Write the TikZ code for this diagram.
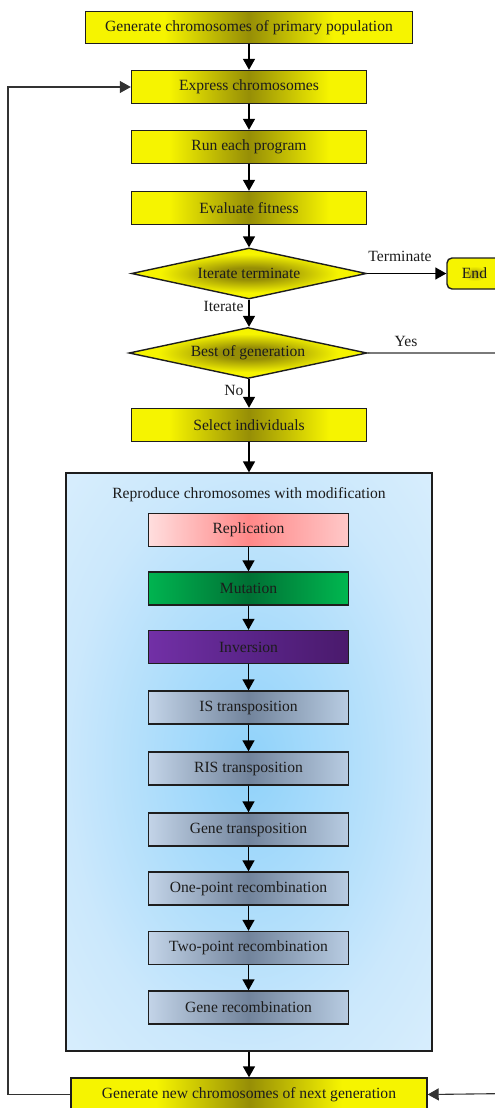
\documentclass[tikz,border=0pt]{standalone}
\usepackage{fontspec}
\setmainfont{Liberation Serif}
\usetikzlibrary{shapes.geometric,arrows.meta}

\definecolor{yelE}{RGB}{246,244,0}
\definecolor{yelD}{RGB}{150,142,6}
\definecolor{boxline}{RGB}{30,30,30}
\definecolor{txt}{RGB}{28,28,28}
\definecolor{loopgray}{RGB}{50,50,50}

% yellow bar: bright ends, olive middle
\pgfdeclarehorizontalshading{yelbar}{100bp}{color(0bp)=(yelE); color(33bp)=(yelE); color(50bp)=(yelD); color(67bp)=(yelE); color(100bp)=(yelE)}
\pgfdeclarehorizontalshading{yelbarwide}{100bp}{color(0bp)=(yelE); color(37bp)=(yelE); color(50bp)=(yelD); color(63bp)=(yelE); color(100bp)=(yelE)}
% yellow glow for diamonds and the end box
\pgfdeclareradialshading{yelglow}{\pgfpoint{0bp}{0bp}}{color(0bp)=(yelD); color(6bp)=(yelD); color(19bp)=(yelE); color(50bp)=(yelE)}
\pgfdeclareradialshading{endglow}{\pgfpoint{0bp}{0bp}}{color(0bp)=(yelD!80!yelE); color(12bp)=(yelE); color(50bp)=(yelE)}
% operator boxes
\pgfdeclarehorizontalshading{pinkbar}{100bp}{color(0bp)=(rgb,255:red,255;green,226;blue,226); color(25bp)=(rgb,255:red,255;green,222;blue,222); color(50bp)=(rgb,255:red,255;green,136;blue,136); color(75bp)=(rgb,255:red,255;green,200;blue,200); color(100bp)=(rgb,255:red,255;green,200;blue,200)}
\pgfdeclarehorizontalshading{greenbar}{100bp}{color(0bp)=(rgb,255:red,0;green,180;blue,80); color(25bp)=(rgb,255:red,0;green,180;blue,80); color(50bp)=(rgb,255:red,0;green,112;blue,52); color(75bp)=(rgb,255:red,0;green,184;blue,80); color(100bp)=(rgb,255:red,0;green,184;blue,80)}
\pgfdeclarehorizontalshading{purplebar}{100bp}{color(0bp)=(rgb,255:red,114;green,48;blue,166); color(25bp)=(rgb,255:red,114;green,48;blue,166); color(50bp)=(rgb,255:red,90;green,36;blue,137); color(75bp)=(rgb,255:red,74;green,26;blue,108); color(100bp)=(rgb,255:red,74;green,26;blue,108)}
\pgfdeclarehorizontalshading{graybar}{100bp}{color(0bp)=(rgb,255:red,195;green,212;blue,232); color(25bp)=(rgb,255:red,195;green,212;blue,232); color(50bp)=(rgb,255:red,114;green,132;blue,156); color(75bp)=(rgb,255:red,184;green,204;blue,226); color(100bp)=(rgb,255:red,184;green,204;blue,226)}
% background of the reproduction block
\pgfdeclareradialshading{bluebg}{\pgfpoint{0bp}{0bp}}{color(0bp)=(rgb,255:red,143;green,210;blue,250); color(25bp)=(rgb,255:red,203;green,232;blue,252); color(40bp)=(rgb,255:red,221;green,240;blue,253); color(50bp)=(rgb,255:red,221;green,240;blue,253)}

\tikzset{
  txtfont/.style={font=\fontsize{15.6}{18}\selectfont, text=txt},
  box/.style={txtfont, draw=boxline, line width=1.4pt, inner sep=0pt, shade},
  ybox/.style={box, shading=yelbar, minimum width=235pt, minimum height=33pt},
  ywide/.style={box, shading=yelbarwide, minimum height=32pt},
  ydia/.style={box, shape=diamond, aspect=4.6, shading=yelglow},
  opbox/.style={box, minimum width=200pt, minimum height=33pt},
  lbl/.style={txtfont, inner sep=0pt, anchor=base},
  arr/.style={-{Triangle[length=11pt,width=12pt]}, line width=1.4pt, draw=black},
  loopline/.style={-{Triangle[length=11pt,width=12pt]}, line width=1.1pt, draw=loopgray},
}

\begin{document}
\begin{tikzpicture}[x=1pt,y=-1pt]
\useasboundingbox (0,0) rectangle (495,1108);
\clip (0,0) rectangle (495,1108);

% main column
\node[ywide, minimum width=327pt] (gen) at (249,27.5) {Generate chromosomes of primary population};
\node[ybox] (expr) at (249,87) {Express chromosomes};
\node[ybox] (run) at (249,147) {Run each program};
\node[ybox] (eval) at (249,208) {Evaluate fitness};
\node[ydia, minimum width=235pt, minimum height=51pt] (iter) at (249,273.5) {Iterate terminate};
\node[box, rounded corners=5pt, shading=endglow, minimum width=55pt, minimum height=31pt] (end) at (474.5,273.5) {End};
\node[ydia, minimum width=238pt, minimum height=51pt] (best) at (248,353) {Best of generation};
\node[ybox] (sel) at (249,425) {Select individuals};

% reproduction block
\node[draw=boxline, line width=1.2pt, shade, shading=bluebg, minimum width=366pt, minimum height=578pt, inner sep=0pt] (repro) at (249,762) {};
\node[lbl] (rtitle) at (249,498) {Reproduce chromosomes with modification};
\node[opbox, shading=pinkbar] (rep) at (248.5,530) {Replication};
\node[opbox, shading=greenbar] (mut) at (248.5,588.5) {Mutation};
\node[opbox, shading=purplebar] (inv) at (248.5,647) {Inversion};
\node[opbox, shading=graybar] (ist) at (248.5,707.5) {IS transposition};
\node[opbox, shading=graybar] (rist) at (248.5,768.5) {RIS transposition};
\node[opbox, shading=graybar] (gt) at (248.5,829.5) {Gene transposition};
\node[opbox, shading=graybar] (opr) at (248.5,888.5) {One-point recombination};
\node[opbox, shading=graybar] (tpr) at (248.5,948) {Two-point recombination};
\node[opbox, shading=graybar] (gr) at (248.5,1007.5) {Gene recombination};

\node[ywide, minimum width=356pt, minimum height=33pt] (bot) at (249,1094.5) {Generate new chromosomes of next generation};

% labels
\node[lbl] (lterm) at (400,261) {Terminate};
\node[lbl] (liter) at (223.5,311.5) {Iterate};
\node[lbl] (lyes) at (406,346) {Yes};
\node[lbl] (lno) at (234,395) {No};

% connectors
\draw[arr] (gen) -- (expr);
\draw[arr] (expr) -- (run);
\draw[arr] (run) -- (eval);
\draw[arr] (eval) -- (iter);
\draw[arr] (iter) -- (end);
\draw[arr] (iter.south) -- (best.north -| iter.south);
\draw[arr] (best.south -| sel.north) -- (sel.north);
\draw[arr] (sel) -- (repro.north);
\draw[arr] (rep) -- (mut);
\draw[arr] (mut) -- (inv);
\draw[arr] (inv) -- (ist);
\draw[arr] (ist) -- (rist);
\draw[arr] (rist) -- (gt);
\draw[arr] (gt) -- (opr);
\draw[arr] (opr) -- (tpr);
\draw[arr] (tpr) -- (gr);
\draw[arr] (repro.south) -- (bot);

% feedback loops
\coordinate (lc1) at (8,1094.5);
\coordinate (lc2) at (8,87);
\draw[loopline] (bot.west) -- (lc1) -- (lc2) -- (expr.west);
\coordinate (rc1) at (510,353);
\coordinate (rc2) at (510,1093.5);
\draw[loopline] (best.east) -- (rc1) -- (rc2) -- (bot.east);
\end{tikzpicture}
\end{document}
